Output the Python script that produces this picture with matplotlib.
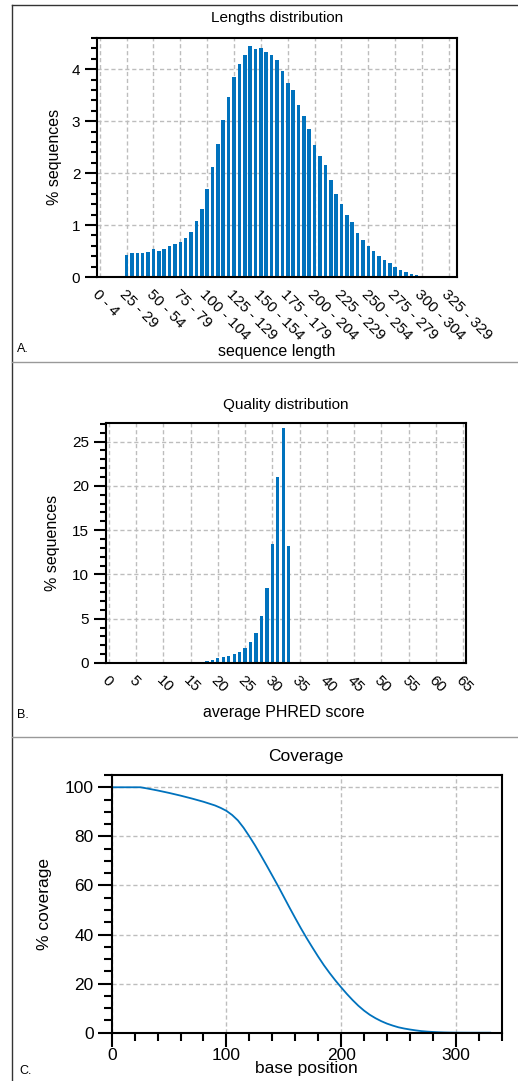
import matplotlib
matplotlib.use('Agg')
import matplotlib.pyplot as plt
from matplotlib.ticker import MultipleLocator
from matplotlib.lines import Line2D

plt.rcParams['font.family'] = ['Liberation Sans', 'DejaVu Sans']

BLUE = '#0072BD'
W, H = 518, 1081

# ---------------- data ----------------
# Panel A: length bins (index i covers 5i .. 5i+4), % sequences
length_bin_index = list(range(0, 62))
length_pct = [0, 0, 0, 0, 0,
              0.43, 0.47, 0.47, 0.47, 0.49, 0.53, 0.51, 0.54, 0.59, 0.64,
              0.67, 0.75, 0.87, 1.07, 1.31, 1.69, 2.12, 2.56, 3.03, 3.46,
              3.84, 4.10, 4.28, 4.44, 4.38, 4.40, 4.33, 4.28, 4.17, 3.96,
              3.73, 3.60, 3.31, 3.09, 2.85, 2.54, 2.33, 2.15, 1.86, 1.59,
              1.41, 1.20, 1.05, 0.85, 0.71, 0.59, 0.50, 0.40, 0.33, 0.26,
              0.19, 0.14, 0.09, 0.05, 0.03, 0.015, 0.01]
length_tick_pos = [0, 5, 10, 15, 20, 25, 30, 35, 40, 45, 50, 55, 60, 65]
length_tick_labels = ['0 - 4', '25 - 29', '50 - 54', '75 - 79', '100 - 104',
                      '125 - 129', '150 - 154', '175 - 179', '200 - 204',
                      '225 - 229', '250 - 254', '275 - 279', '300 - 304',
                      '325 - 329']

# Panel B: average PHRED score, % sequences
phred_scores = [17, 18, 19, 20, 21, 22, 23, 24, 25, 26, 27, 28, 29, 30, 31, 32, 33, 34]
phred_pct = [0.11, 0.19, 0.30, 0.53, 0.68, 0.83, 0.98, 1.2, 1.66, 2.4,
             3.4, 5.3, 8.45, 13.4, 21.0, 26.5, 13.2, 0.15]
phred_ticks = [0, 5, 10, 15, 20, 25, 30, 35, 40, 45, 50, 55, 60, 65]

# Panel C: coverage
cov_pos = [0, 10, 20, 25, 30, 40, 50, 60, 70, 80, 90, 95, 100, 105, 110, 115,
           120, 125, 130, 135, 140, 145, 150, 155, 160, 165, 170, 175, 180,
           185, 190, 195, 200, 205, 210, 215, 220, 225, 230, 235, 240, 245,
           250, 255, 260, 265, 270, 275, 280, 285, 290, 295, 300, 310, 320, 330]
cov_pct = [100, 100, 100, 100, 99.6, 98.7, 97.7, 96.6, 95.4, 94.1, 92.6, 91.6,
           90.4, 88.7, 86.5, 83.5, 80.0, 76.3, 72.3, 68.2, 64.0, 59.8, 55.4,
           51.0, 46.7, 42.5, 38.5, 34.7, 31.0, 27.5, 24.3, 21.3, 18.5, 15.8,
           13.3, 11.0, 9.0, 7.3, 5.9, 4.7, 3.7, 2.9, 2.2, 1.7, 1.3, 0.95, 0.65,
           0.45, 0.3, 0.18, 0.1, 0.05, 0.02, 0.0, 0.0, 0.0]

# ---------------- figure ----------------
fig = plt.figure(figsize=(W / 100, H / 100), dpi=100)


def ax_px(l, r, t, b):
    return fig.add_axes([l / W, 1 - b / H, (r - l) / W, (b - t) / H])


def fx(x):
    return x / W


def fy(y):
    return 1 - y / H


GRID = dict(color='#bdbdbd', linestyle=(0, (3, 2)), linewidth=1.0)


def style(ax, fs):
    for s in ax.spines.values():
        s.set_linewidth(1.5)
        s.set_color('black')
    ax.set_axisbelow(True)
    ax.grid(True, which='major', **GRID)
    ax.tick_params(axis='y', which='major', direction='out', length=9,
                   width=1.5, labelsize=fs, pad=3)
    ax.tick_params(axis='y', which='minor', direction='out', length=4.5,
                   width=1.5)


# Panel A
axA = ax_px(97, 457, 38, 277)
axA.bar(length_bin_index, length_pct, width=0.66, color=BLUE)
axA.set_xlim(-0.5, 66.5)
axA.set_ylim(0, 4.6)
axA.yaxis.set_major_locator(MultipleLocator(1))
axA.yaxis.set_minor_locator(MultipleLocator(0.2))
axA.set_xticks(length_tick_pos)
axA.set_xticklabels(length_tick_labels, rotation=-45, ha='left', va='top',
                    rotation_mode='anchor', fontsize=11)
style(axA, 11)
axA.tick_params(axis='x', length=0, pad=7)
fig.text(fx(277), fy(18), 'Lengths distribution', ha='center', va='center', fontsize=11)
fig.text(fx(55), fy(157), '% sequences', ha='center', va='center', rotation=90, fontsize=11.5)
fig.text(fx(277), fy(352), 'sequence length', ha='center', va='center', fontsize=11.5)
fig.text(fx(17), fy(349), 'A.', ha='left', va='center', fontsize=9)

# Panel B
axB = ax_px(106, 466, 423, 663)
axB.bar(phred_scores, phred_pct, width=0.6, color=BLUE)
axB.set_xlim(-0.5, 65.5)
axB.set_ylim(0, 27.1)
axB.yaxis.set_major_locator(MultipleLocator(5))
axB.yaxis.set_minor_locator(MultipleLocator(1))
axB.set_xticks(phred_ticks)
axB.set_xticklabels([str(t) for t in phred_ticks], rotation=-45, ha='left',
                    va='top', rotation_mode='anchor', fontsize=11)
style(axB, 11)
axB.tick_params(axis='x', length=0, pad=7)
fig.text(fx(286), fy(405), 'Quality distribution', ha='center', va='center', fontsize=11)
fig.text(fx(52), fy(543), '% sequences', ha='center', va='center', rotation=90, fontsize=11.5)
fig.text(fx(284), fy(712), 'average PHRED score', ha='center', va='center', fontsize=11.5)
fig.text(fx(17), fy(715), 'B.', ha='left', va='center', fontsize=9)

# Panel C
axC = ax_px(111.7, 501.7, 775, 1032.7)
axC.plot(cov_pos, cov_pct, color=BLUE, linewidth=1.3)
axC.set_xlim(0, 340)
axC.set_ylim(0, 105)
axC.xaxis.set_major_locator(MultipleLocator(100))
axC.xaxis.set_minor_locator(MultipleLocator(20))
axC.yaxis.set_major_locator(MultipleLocator(20))
axC.yaxis.set_minor_locator(MultipleLocator(5))
style(axC, 12.5)
axC.tick_params(axis='x', which='major', direction='out', length=10,
                width=1.5, labelsize=12.5, pad=1)
axC.tick_params(axis='x', which='minor', direction='out', length=5.5,
                width=1.5)
axC.tick_params(axis='y', which='major', length=10)
axC.tick_params(axis='y', which='minor', length=5.5)
fig.text(fx(306), fy(757), 'Coverage', ha='center', va='center', fontsize=12.5)
fig.text(fx(45), fy(904), '% coverage', ha='center', va='center', rotation=90, fontsize=12.5)
fig.text(fx(306), fy(1069), 'base position', ha='center', va='center', fontsize=12.5)
fig.text(fx(19), fy(1071), 'C.', ha='left', va='center', fontsize=9)

# frame / separator lines
fig.add_artist(Line2D([fx(12), fx(12)], [0, fy(5)], color='#333333', lw=1.0))
fig.add_artist(Line2D([fx(12), 1], [fy(5), fy(5)], color='#333333', lw=1.0))
fig.add_artist(Line2D([fx(12), 1], [fy(362), fy(362)], color='#999999', lw=1.0))
fig.add_artist(Line2D([fx(12), 1], [fy(737), fy(737)], color='#999999', lw=1.0))

fig.savefig('out.png', dpi=100)
